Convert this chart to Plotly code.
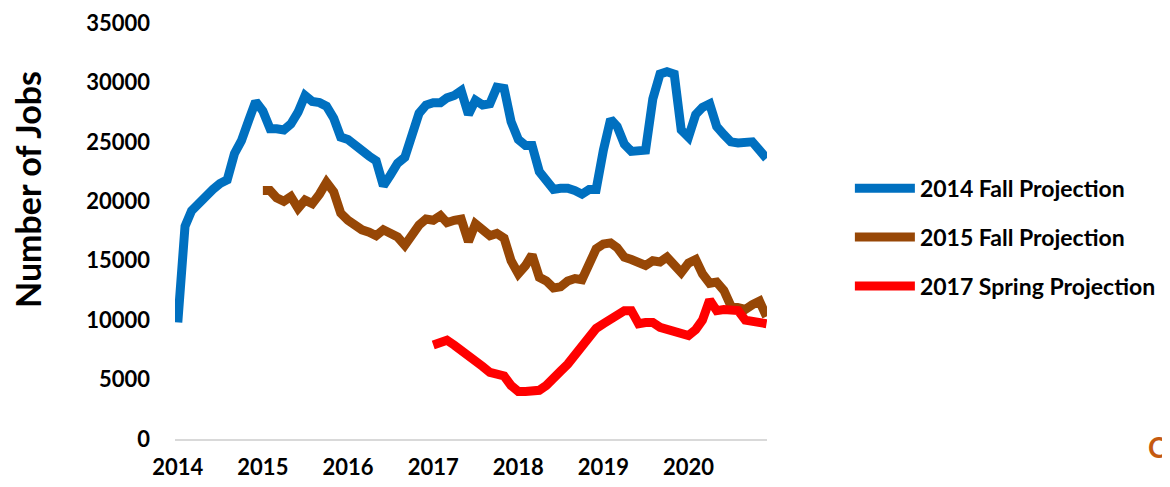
import pandas as pd
import plotly.graph_objects as go

# monthly, Jan 2014 .. Dec 2020
months = pd.date_range("2014-01-01", periods=84, freq="MS")

fall_2014 = [
    9800, 17900, 19200, 19900, 20300, 21000, 21500, 21800, 24000, 25100, 26800, 28400,
    27600, 26100, 26100, 26000, 26500, 27500, 28900, 28400, 28300, 28000, 27000, 25400,
    25200, 24800, 24200, 23800, 23400, 21300, 22200, 23200, 23700, 25600, 27400, 28100,
    28300, 28300, 28700, 28900, 29300, 27300, 28500, 28100, 28200, 29600, 29500, 26700,
    25200, 24700, 24700, 22500, 21600, 21000, 21100, 21100, 20900, 20600, 21000, 21000,
    24300, 26900, 26300, 24800, 24200, 24200, 24300, 28600, 30700, 30900, 30700, 26000,
    25400, 27300, 27900, 28200, 26300, 25600, 25000, 24900, 25000, 25000, 24300, 23600,
]

fall_2015 = [None] * 12 + [
    20900, 20900, 20300, 20000, 20400, 19400, 20100, 19800, 20600, 21600, 20800, 19000,
    18400, 17900, 17600, 17400, 17100, 17600, 17200, 17000, 16300, 17300, 18000, 18500,
    18400, 18800, 18200, 18400, 18500, 16600, 18100, 17600, 17100, 17300, 16900, 15000,
    13900, 14600, 15500, 13600, 13300, 12700, 12800, 13300, 13500, 13400, 14800, 16000,
    16400, 16500, 16100, 15300, 15100, 14800, 14600, 15000, 14900, 15300, 14600, 14000,
    14800, 15100, 13900, 13100, 13200, 12500, 11200, 11100, 10900, 11300, 11600, 10300,
]

spring_2017 = [None] * 36 + [
    7900, 8200, 8300, 7900, 7400, 7100, 6600, 6100, 5600, 5500, 5300, 4500,
    4000, 4000, 4000, 4100, 4500, 5000, 5700, 6300, 7100, 8000, 8700, 9300,
    9700, 10100, 10600, 10800, 10800, 9700, 9800, 9800, 9400, 9200, 9100, 8900,
    8700, 9200, 10000, 11700, 10800, 10900, 10900, 10800, 10000, 9900, 9800, 9700,
]

year_ticks = pd.date_range("2014-01-01", periods=7, freq="YS")
year_labels = [str(d.year) for d in year_ticks]

series = [
    ("2014 Fall Projection", fall_2014, "#0070c0"),
    ("2015 Fall Projection", fall_2015, "#974706"),
    ("2017 Spring Projection", spring_2017, "#ff0000"),
]

fig = go.Figure()
for name, vals, col in series:
    fig.add_trace(go.Scatter(x=months, y=vals, mode="lines", name=name, legendgroup=name,
                             line=dict(color=col, width=9), connectgaps=False))

font_family = "Lato, 'Open Sans', sans-serif"

# page has an 8px body margin, so the figure is a bit smaller than the window
fig.update_layout(
    width=1162, height=479,
    margin=dict(l=167, r=403, t=15, b=48, autoexpand=False),
    paper_bgcolor="white", plot_bgcolor="white",
    font=dict(family=font_family, color="black", size=20, weight="bold"),
    showlegend=True,
    legend=dict(x=1.14, y=0.485, xanchor="left", yanchor="middle",
                font=dict(size=23, weight="bold"), itemwidth=60,
                traceorder="grouped", tracegroupgap=16, bgcolor="rgba(0,0,0,0)"),
    xaxis=dict(range=[months[0] - pd.Timedelta(days=12), months[-1] + pd.Timedelta(days=2)],
               tickvals=year_ticks, ticktext=year_labels, automargin=False,
               showgrid=False, zeroline=False, showline=True,
               linecolor="#d9d9d9", linewidth=2, ticks="", ticklabelstandoff=8,
               ticklabeloverflow="allow",
               tickfont=dict(size=22, weight="bold")),
    yaxis=dict(range=[0, 35000], dtick=5000, showgrid=False, zeroline=False,
               showline=False, ticks="", tickformat="d", automargin=False,
               ticklabeloverflow="allow",
               tickfont=dict(size=22, weight="bold"), ticklabelstandoff=24),
)

fig.add_annotation(text="Number of Jobs", xref="paper", yref="paper",
                   x=-0.249, y=0.6, textangle=-90, showarrow=False,
                   xanchor="center", yanchor="middle",
                   font=dict(size=34, weight="bold"))

# logo letter at the lower right edge
fig.add_annotation(text="C", xref="paper", yref="paper", x=1.64, y=-0.02,
                   xanchor="left", yanchor="middle", showarrow=False,
                   font=dict(size=28, color="#c55a11", weight="bold"))

fig.write_html("out.html")
